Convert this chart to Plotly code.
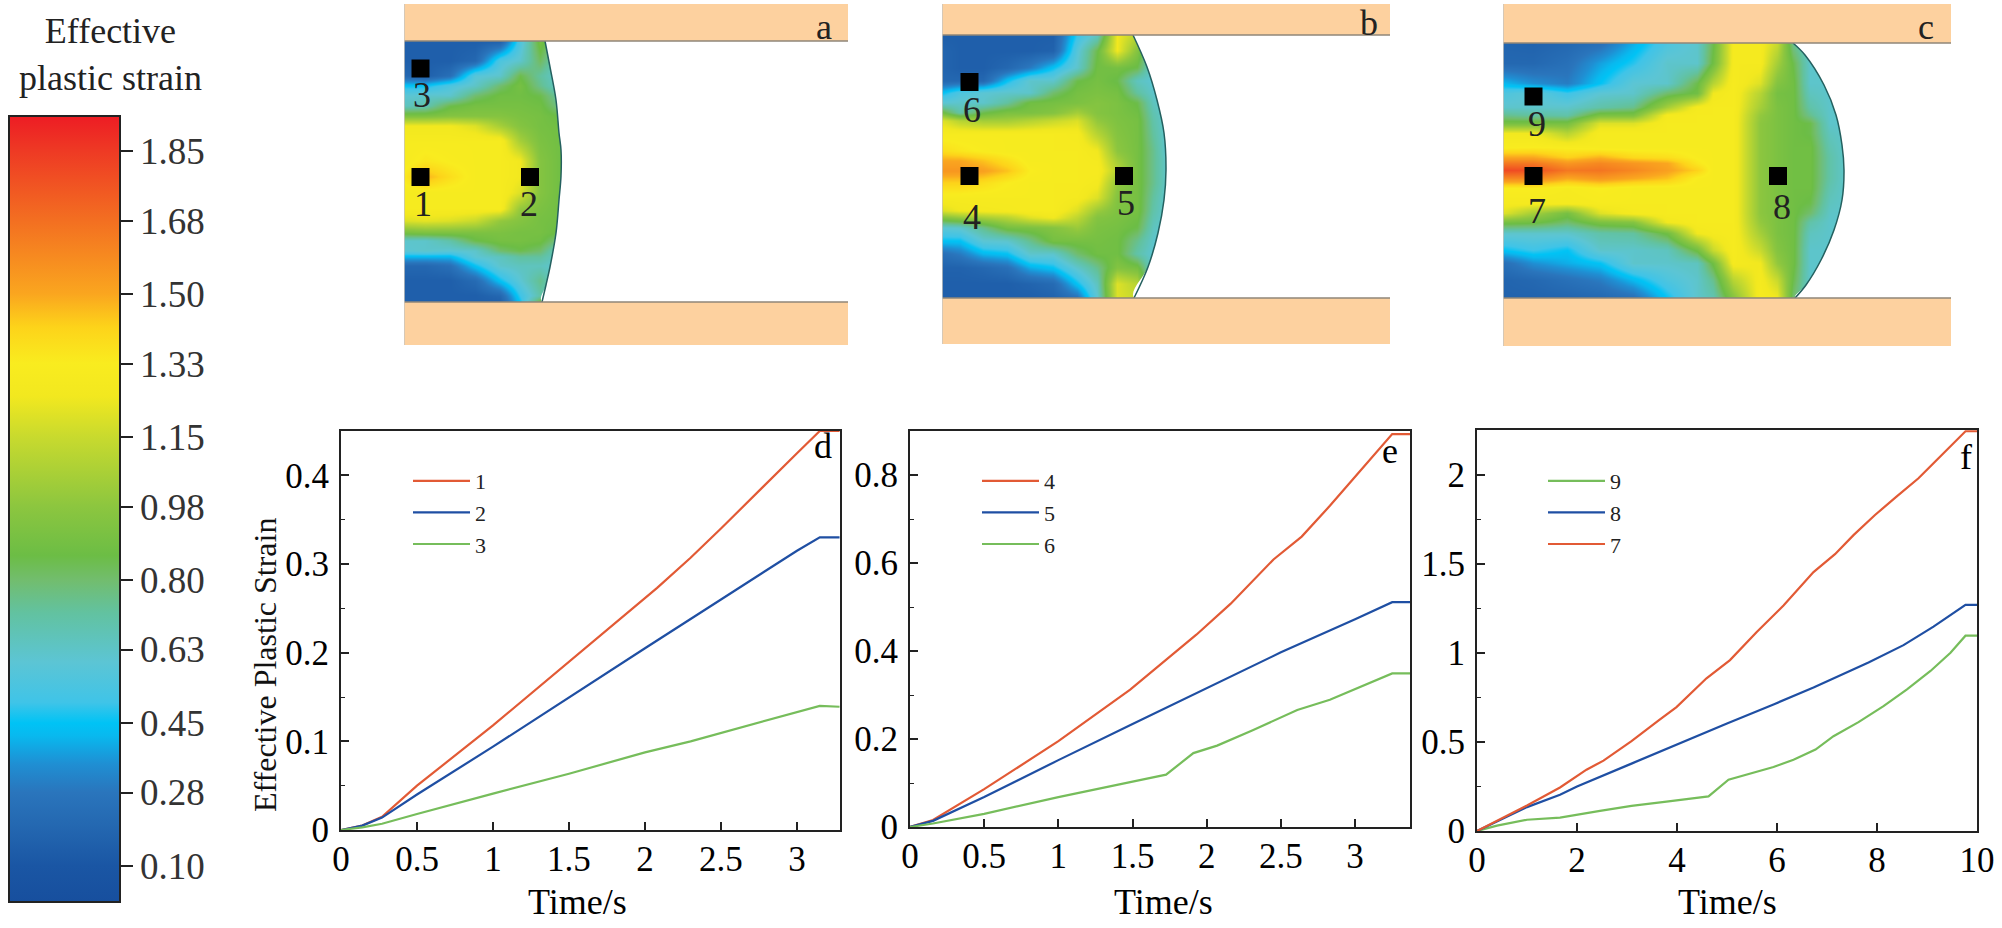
import plotly.graph_objects as go

FONT = "Liberation Serif"
W, H = 2002, 928

# colour bar
cbar_vals = [0.012, 0.10, 0.20, 0.28, 0.35, 0.42, 0.45, 0.50, 0.60, 0.72, 0.80, 0.86, 0.98, 1.15, 1.25, 1.33, 1.42, 1.50, 1.68, 1.85, 1.936]
cbar_cols = ["#174f9e", "#1a56a4", "#2468b1", "#2a75bc", "#1f8fd3", "#08b9ef", "#00c3f5", "#3fc4e8", "#5cc5d4", "#62c2a0", "#72bd6e",
             "#6cbd45", "#8cc63f", "#c8da2e", "#f2e81f", "#f9ec1f", "#fdd31a", "#faa61f", "#f36f21", "#ee3a24", "#ed1c24"]
cbar_ticks = [0.10, 0.28, 0.45, 0.63, 0.80, 0.98, 1.15, 1.33, 1.50, 1.68, 1.85]
cbar_text = ["0.10", "0.28", "0.45", "0.63", "0.80", "0.98", "1.15", "1.33", "1.50", "1.68", "1.85"]

# panel a field, grid in picture pixels
a_x = [405, 425, 450, 475, 500, 520, 540, 560]
a_y = [41, 60, 75, 85, 95, 105, 115, 125, 140, 160, 176, 192, 208, 220, 232, 240, 250, 256, 265, 280, 295, 302]
a_z = [
    [.15, .15, .15, .15, .17, .55, .90, .70],
    [.15, .15, .15, .20, .55, .62, .82, .62],
    [.20, .15, .25, .58, .62, .85, .72, .60],
    [.45, .45, .55, .63, .80, .90, .75, .62],
    [.60, .62, .62, .80, .88, .88, .85, .70],
    [.65, .68, .85, .90, .90, .90, .88, .75],
    [.92, .92, .95, .95, .95, .92, .90, .85],
    [1.25, 1.25, 1.25, 1.20, 1.05, .95, .90, .88],
    [1.30, 1.30, 1.30, 1.30, 1.30, 1.05, .92, .88],
    [1.30, 1.35, 1.32, 1.30, 1.30, 1.25, .95, .88],
    [1.35, 1.48, 1.38, 1.30, 1.30, 1.25, .95, .88],
    [1.30, 1.30, 1.30, 1.30, 1.30, 1.20, .95, .88],
    [1.30, 1.30, 1.30, 1.30, 1.30, 1.00, .92, .88],
    [1.20, 1.22, 1.20, 1.15, 1.00, .95, .90, .88],
    [.90, .92, .92, .92, .92, .90, .90, .85],
    [.62, .62, .70, .85, .90, .90, .88, .75],
    [.60, .62, .60, .62, .80, .85, .80, .62],
    [.42, .42, .42, .60, .65, .72, .72, .62],
    [.20, .20, .25, .45, .62, .65, .65, .60],
    [.15, .15, .15, .22, .45, .60, .75, .60],
    [.15, .15, .15, .15, .20, .50, .70, .60],
    [.15, .15, .15, .15, .15, .45, .90, .90],
]
a_front_y = [41, 67, 100, 133, 150, 176, 200, 233, 267, 285, 302]
a_front_x = [545, 550, 556, 559, 561, 561, 559, 556, 550, 546, 542]

# panel b field
b_x = [943, 960, 983, 1007, 1030, 1053, 1077, 1097, 1117, 1137, 1153, 1167]
b_y = [35, 50, 67, 80, 92, 102, 112, 120, 133, 150, 160, 170, 182, 197, 210, 217, 227, 240, 253, 267, 283, 298]
b_z = [
    [.15, .15, .15, .15, .15, .15, .50, .65, 1.25, 1.10, .60, .60],
    [.18, .15, .15, .15, .15, .17, .58, .85, 1.25, .95, .60, .60],
    [.18, .15, .15, .20, .30, .45, .62, .88, .90, .85, .60, .60],
    [.20, .20, .20, .45, .62, .62, .85, .90, .85, .65, .60, .60],
    [.45, .55, .60, .62, .62, .80, .90, .92, .90, .72, .62, .60],
    [.60, .62, .62, .72, .88, .90, .92, .95, .92, .85, .65, .60],
    [.88, .70, .85, .92, .92, .95, 1.05, .95, .92, .88, .68, .60],
    [1.20, 1.10, 1.05, 1.05, 1.10, 1.15, 1.20, 1.00, .93, .90, .70, .60],
    [1.30, 1.30, 1.30, 1.30, 1.30, 1.30, 1.28, 1.10, .95, .90, .72, .60],
    [1.38, 1.35, 1.32, 1.30, 1.30, 1.30, 1.30, 1.25, .98, .90, .75, .60],
    [1.50, 1.50, 1.45, 1.38, 1.30, 1.30, 1.30, 1.28, 1.05, .90, .75, .62],
    [1.55, 1.55, 1.52, 1.45, 1.33, 1.30, 1.30, 1.30, 1.10, .90, .75, .62],
    [1.42, 1.42, 1.38, 1.33, 1.30, 1.30, 1.30, 1.27, 1.00, .90, .75, .62],
    [1.30, 1.30, 1.30, 1.30, 1.30, 1.30, 1.28, 1.20, .95, .90, .72, .60],
    [1.20, 1.25, 1.27, 1.28, 1.30, 1.30, 1.20, 1.02, .93, .90, .70, .60],
    [.95, 1.00, 1.05, 1.10, 1.20, 1.25, 1.12, .95, .92, .88, .68, .60],
    [.60, .62, .75, .90, .92, .95, 1.02, .92, .90, .85, .65, .60],
    [.45, .45, .60, .62, .75, .90, .90, .90, .88, .75, .62, .60],
    [.25, .30, .42, .45, .62, .62, .80, .88, .88, .70, .60, .60],
    [.17, .17, .20, .25, .40, .45, .62, .75, .95, .90, .60, .60],
    [.15, .15, .15, .15, .18, .22, .45, .65, 1.20, 1.10, .60, .60],
    [.15, .15, .15, .15, .15, .17, .25, .60, 1.20, 1.15, .60, .60],
]
b_front_y = [35, 67, 100, 133, 170, 200, 233, 267, 298]
b_front_x = [1133, 1147, 1157, 1164, 1166, 1164, 1158, 1148, 1134]

# panel c field
c_x = [1504, 1533, 1567, 1600, 1633, 1667, 1697, 1713, 1733, 1760, 1777, 1793, 1810, 1830, 1845]
c_y = [43, 63, 83, 93, 107, 115, 123, 133, 147, 157, 163, 170, 178, 188, 203, 213, 222, 233, 250, 263, 280, 298]
c_z = [
    [.18, .17, .20, .25, .40, .55, .62, .85, 1.28, 1.28, 1.15, .75, .62, .62, .62],
    [.20, .20, .25, .38, .48, .62, .62, .88, 1.28, 1.28, 1.05, .85, .62, .62, .62],
    [.42, .35, .30, .45, .60, .62, .85, 1.10, 1.30, 1.20, .95, .88, .62, .62, .62],
    [.55, .60, .50, .60, .62, .80, .88, 1.25, 1.30, 1.10, .90, .88, .65, .62, .62],
    [.62, .62, .62, .70, .75, 1.05, 1.28, 1.30, 1.30, 1.05, .92, .88, .70, .62, .62],
    [.75, .72, .70, .92, .92, 1.28, 1.30, 1.30, 1.30, 1.00, .92, .88, .75, .62, .62],
    [.90, .90, .90, 1.20, 1.20, 1.30, 1.30, 1.30, 1.30, .98, .92, .88, .85, .62, .62],
    [1.25, 1.25, 1.10, 1.30, 1.30, 1.30, 1.30, 1.30, 1.30, .98, .92, .88, .85, .65, .62],
    [1.32, 1.33, 1.32, 1.30, 1.30, 1.30, 1.30, 1.30, 1.30, .98, .92, .88, .88, .68, .62],
    [1.50, 1.50, 1.42, 1.48, 1.40, 1.38, 1.32, 1.30, 1.30, .98, .92, .88, .88, .70, .62],
    [1.65, 1.65, 1.55, 1.60, 1.55, 1.50, 1.35, 1.30, 1.30, .98, .92, .88, .88, .70, .62],
    [1.80, 1.78, 1.65, 1.66, 1.60, 1.52, 1.42, 1.30, 1.30, .98, .92, .88, .88, .70, .62],
    [1.60, 1.60, 1.50, 1.55, 1.50, 1.45, 1.32, 1.30, 1.30, .98, .92, .88, .88, .70, .62],
    [1.33, 1.33, 1.30, 1.33, 1.30, 1.30, 1.30, 1.30, 1.30, .98, .92, .88, .88, .68, .62],
    [1.28, 1.28, 1.28, 1.30, 1.30, 1.30, 1.30, 1.30, 1.30, .98, .92, .88, .85, .65, .62],
    [1.20, 1.05, .90, 1.20, 1.28, 1.30, 1.30, 1.30, 1.30, .98, .92, .88, .80, .63, .62],
    [.90, .88, .80, .92, .95, 1.25, 1.30, 1.30, 1.30, 1.00, .92, .88, .70, .62, .62],
    [.62, .62, .62, .70, .72, .88, 1.25, 1.28, 1.30, 1.05, .92, .88, .65, .62, .62],
    [.45, .50, .45, .62, .62, .65, .88, 1.15, 1.30, 1.15, .95, .88, .62, .62, .62],
    [.25, .35, .40, .45, .62, .62, .65, .88, 1.28, 1.25, 1.00, .88, .62, .62, .62],
    [.18, .20, .25, .30, .42, .55, .62, .75, 1.10, 1.28, 1.15, .85, .62, .62, .62],
    [.17, .17, .18, .20, .25, .45, .62, .68, .95, 1.30, 1.25, .80, .62, .62, .62],
]
c_front_y = [43, 55, 85, 115, 145, 170, 200, 230, 260, 285, 298]
c_front_x = [1793, 1805, 1824, 1836, 1842, 1844, 1842, 1834, 1821, 1806, 1795]

# curves, panel d
d1_t = [0, .14, .27, .5, 1, 1.5, 2, 2.08, 2.3, 2.5, 3, 3.15, 3.28]
d1_v = [0, .005, .015, .05, .118, .19, .262, .273, .307, .34, .425, .45, .45]
d2_t = [0, .14, .27, .5, 1, 1.5, 2, 2.5, 3, 3.15, 3.28]
d2_v = [0, .005, .014, .04, .094, .15, .205, .26, .315, .33, .33]
d3_t = [0, .14, .27, .5, 1, 1.5, 2, 2.3, 3.15, 3.28]
d3_v = [0, .003, .007, .018, .041, .0635, .0875, .10, .14, .139]

# curves, panel e
e4_t = [0, .155, .5, 1, 1.484, 1.73, 1.93, 2.16, 2.45, 2.64, 2.83, 3.0, 3.25, 3.37]
e4_v = [0, .016, .086, .195, .312, .38, .437, .507, .608, .66, .73, .796, .893, .893]
e5_t = [0, .155, .5, 1, 1.5, 2, 2.5, 3, 3.25, 3.37]
e5_v = [0, .014, .068, .152, .234, .315, .397, .472, .511, .511]
e6_t = [0, .155, .5, 1, 1.484, 1.726, 1.91, 2.07, 2.31, 2.61, 2.83, 3.01, 3.25, 3.37]
e6_v = [0, .008, .03, .068, .102, .119, .168, .185, .22, .266, .289, .314, .349, .349]

# curves, panel f
f7_t = [0, .5, 1, 1.66, 2.19, 2.53, 3.09, 3.66, 3.99, 4.59, 5.06, 5.59, 6.13, 6.73, 7.16, 7.53, 7.96, 8.39, 8.83, 9.2, 9.77, 10]
f7_v = [0, .07, .143, .244, .344, .395, .504, .626, .695, .857, .959, 1.115, 1.265, 1.453, 1.553, 1.66, 1.773, 1.876, 1.979, 2.083, 2.243, 2.243]
f8_t = [0, 1, 1.66, 2, 3.09, 3.99, 5, 5.93, 6.73, 7.83, 8.53, 9.13, 9.77, 10]
f8_v = [0, .134, .203, .25, .378, .485, .603, .71, .805, .945, 1.043, 1.147, 1.269, 1.269]
f9_t = [0, .4, 1, 1.5, 1.66, 2.46, 3.09, 3.79, 4.63, 5.03, 5.93, 6.33, 6.77, 7.13, 7.63, 8.13, 8.6, 9.07, 9.47, 9.77, 10]
f9_v = [0, .03, .063, .07, .075, .113, .141, .165, .194, .288, .359, .40, .457, .532, .611, .701, .795, .898, 1.0, 1.096, 1.096]

RED, BLUE, GREEN = "#e25a35", "#1f4fa3", "#76bd5b"
ORANGE = "#fdd19f"


def fx(p):
    return p / W


def fy(p):
    return 1 - p / H


fig = go.Figure()


# one simulation panel: strain field, front, measuring points, steel bars
def add_panel(n, left, right, top, bottom, low, xs, ys, z, front_x, front_y, marks, names, letter):
    xname, yname = f"x{n}", f"y{n}"
    fig.add_trace(go.Heatmap(x=xs, y=ys, z=z, coloraxis="coloraxis", zsmooth="best", xaxis=xname, yaxis=yname, hoverinfo="skip"))
    fig.add_trace(go.Scatter(x=front_x + [right + 40, right + 40], y=front_y + [bottom, top], mode="lines", fill="toself", fillcolor="white",
                             line=dict(width=0, shape="spline"), showlegend=False, xaxis=xname, yaxis=yname))
    fig.add_trace(go.Scatter(x=front_x, y=front_y, mode="lines", line=dict(color="#24605f", width=1.5, shape="spline"),
                             showlegend=False, xaxis=xname, yaxis=yname))
    fig.add_trace(go.Scatter(x=[m[0] for m in marks], y=[m[1] for m in marks], mode="markers",
                             marker=dict(symbol="square", size=18, color="black"), showlegend=False, xaxis=xname, yaxis=yname))
    for name, m in zip(names, marks):
        fig.add_annotation(x=m[2], y=m[3], text=name, xref=xname, yref=yname, showarrow=False, font=dict(size=36, color="#222"))
    fig.add_annotation(x=letter[0], y=letter[1], text=letter[2], xref=xname, yref=yname, showarrow=False, font=dict(size=36, color="#222"))
    fig.add_shape(type="rect", x0=left, x1=right, y0=4, y1=top, xref=xname, yref=yname, fillcolor=ORANGE, line_width=0)
    fig.add_shape(type="rect", x0=left, x1=right, y0=bottom, y1=low, xref=xname, yref=yname, fillcolor=ORANGE, line_width=0)
    fig.add_shape(type="line", x0=left, x1=right, y0=top, y1=top, xref=xname, yref=yname, line=dict(color="#8f8678", width=1.5))
    fig.add_shape(type="line", x0=left, x1=right, y0=bottom, y1=bottom, xref=xname, yref=yname, line=dict(color="#8f8678", width=1.5))
    fig.add_shape(type="line", x0=left, x1=left, y0=4, y1=low, xref=xname, yref=yname, line=dict(color="#c9c4be", width=1.5))
    axis = dict(visible=False, domain=[fx(left), fx(right)], range=[left, right], fixedrange=True)
    fig.update_layout({f"xaxis{n}": dict(axis, anchor=yname),
                       f"yaxis{n}": dict(visible=False, domain=[fy(350), fy(0)], range=[350, 0], anchor=xname)})


add_panel(1, 404, 848, 41, 302, 345, a_x, a_y, a_z, a_front_x, a_front_y,
          [(420.5, 68.5, 422, 95), (420.5, 177, 423, 204), (530, 177, 529, 204)], ["3", "1", "2"], (824, 27, "a"))
add_panel(2, 942, 1390, 35, 298, 344, b_x, b_y, b_z, b_front_x, b_front_y,
          [(969.5, 82, 972, 110), (969.5, 176, 972, 217), (1124, 176, 1126, 203)], ["6", "4", "5"], (1369, 23, "b"))
add_panel(3, 1503, 1951, 43, 298, 346, c_x, c_y, c_z, c_front_x, c_front_y,
          [(1533.5, 96.5, 1537, 124), (1533.5, 176, 1537, 211), (1778, 176, 1782, 207)], ["9", "7", "8"], (1926, 27, "c"))


# one strain-time plot
def add_plot(n, left, right, top, bottom, xr, yr, xticks, yticks, ydt, curves, legend, lx, title_x, letter):
    for name, t, v, col in curves:
        fig.add_trace(go.Scatter(x=t, y=v, mode="lines", name=name, line=dict(color=col, width=2.2),
                                 xaxis=f"x{n}", yaxis=f"y{n}", legend=legend))
    base = dict(showline=True, linecolor="#222", linewidth=2, mirror=True, ticks="inside", tickcolor="#222", tickwidth=1.5,
                ticklen=8, showgrid=False, zeroline=False, tickfont=dict(size=35, color="black"))
    fig.update_layout({
        f"xaxis{n}": dict(base, domain=[fx(left), fx(right)], range=xr, tickvals=xticks, ticktext=[f"{k:g}" for k in xticks],
                          anchor=f"y{n}", ticklabelstandoff=-3),
        f"yaxis{n}": dict(base, domain=[fy(bottom), fy(top)], range=yr, tickvals=yticks, ticktext=[f"{k:g}" for k in yticks],
                          anchor=f"x{n}", ticklabelstandoff=3,
                          minor=dict(ticks="inside", dtick=ydt, ticklen=4, tickcolor="#222", tickwidth=1.2)),
        legend: dict(x=fx(lx), y=fy(460), xanchor="left", yanchor="top", bgcolor="rgba(0,0,0,0)", font=dict(size=22, color="#222"),
                     itemwidth=57, tracegroupgap=0),
    })
    fig.add_annotation(x=fx(title_x), y=fy(902), xref="paper", yref="paper", xanchor="center", yanchor="middle",
                       text="Time/s", showarrow=False, font=dict(size=36, color="black"))
    fig.add_annotation(x=fx(letter[0]), y=fy(letter[1]), xref="paper", yref="paper", xanchor="center", yanchor="middle",
                       text=letter[2], showarrow=False, font=dict(size=36, color="black"))


add_plot(4, 341, 840, 431, 830, [0, 3.283], [0, .45], [0, .5, 1, 1.5, 2, 2.5, 3], [0, .1, .2, .3, .4], .05,
         [("1", d1_t, d1_v, RED), ("2", d2_t, d2_v, BLUE), ("3", d3_t, d3_v, GREEN)], "legend", 408, 577, (823, 446, "d"))
add_plot(5, 910, 1410, 431, 827, [0, 3.37], [0, .9], [0, .5, 1, 1.5, 2, 2.5, 3], [0, .2, .4, .6, .8], .1,
         [("4", e4_t, e4_v, RED), ("5", e5_t, e5_v, BLUE), ("6", e6_t, e6_v, GREEN)], "legend2", 977, 1163, (1390, 451, "e"))
add_plot(6, 1477, 1977, 430, 831, [0, 10], [0, 2.25], [0, 2, 4, 6, 8, 10], [0, .5, 1, 1.5, 2], .25,
         [("9", f9_t, f9_v, GREEN), ("8", f8_t, f8_v, BLUE), ("7", f7_t, f7_v, RED)], "legend3", 1543, 1727, (1966, 457, "f"))

fig.add_annotation(x=fx(265), y=fy(665), xref="paper", yref="paper", xanchor="center", yanchor="middle",
                   text="Effective Plastic Strain", textangle=-90, showarrow=False, font=dict(size=32, color="#111"))
fig.add_annotation(x=fx(110), y=fy(54), xref="paper", yref="paper", xanchor="center", yanchor="middle",
                   text="Effective<br>plastic strain", showarrow=False, font=dict(size=36, color="#222"))

fig.update_layout(
    width=W, height=H, margin=dict(l=0, r=0, t=0, b=0, autoexpand=False), plot_bgcolor="white", paper_bgcolor="white",
    font=dict(family=FONT, color="black"),
    coloraxis=dict(
        cmin=cbar_vals[0], cmax=cbar_vals[-1],
        colorscale=[[(v - cbar_vals[0]) / (cbar_vals[-1] - cbar_vals[0]), c] for v, c in zip(cbar_vals, cbar_cols)],
        colorbar=dict(x=fx(9), xanchor="left", y=fy(509), yanchor="middle", lenmode="pixels", len=786, thicknessmode="pixels",
                      thickness=111, xpad=0, ypad=0, outlinecolor="#222", outlinewidth=2, ticks="outside", ticklen=12, tickwidth=2,
                      tickcolor="#222", tickvals=cbar_ticks, ticktext=cbar_text, tickfont=dict(size=37, color="#333")),
    ),
)

fig.write_html("out.html", config={"displayModeBar": False}, post_script="document.body.style.margin='0';")
